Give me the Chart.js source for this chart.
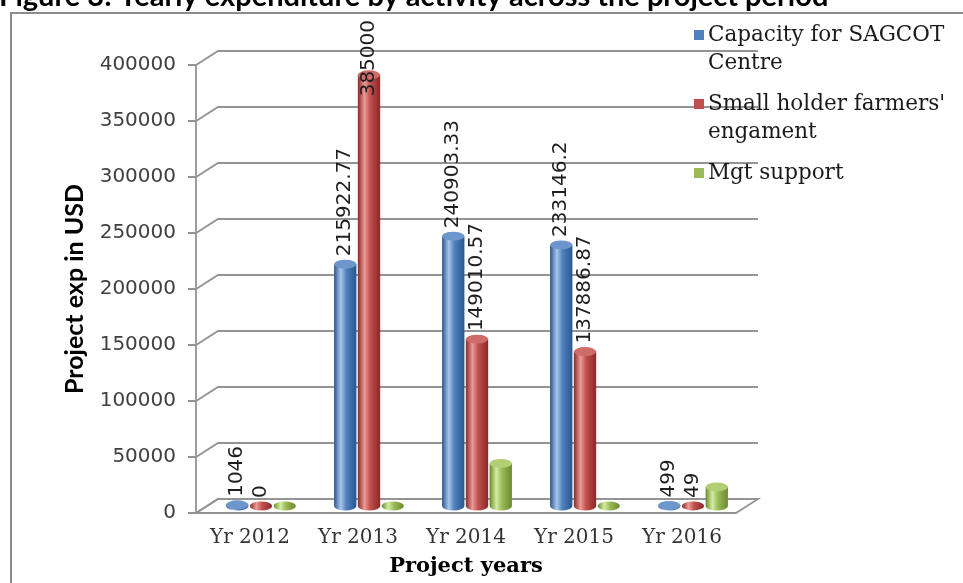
<!DOCTYPE html>
<html>
<head>
<meta charset="utf-8">
<title>Project expenditure by activity</title>
<script src="https://cdn.jsdelivr.net/npm/chart.js@4"></script>
<style>
  html, body { margin: 0; padding: 0; background: #fff; }
  canvas { display: block; }
</style>
</head>
<body>
<canvas id="chart" width="963" height="583"></canvas>
<script>
const years = ["Yr 2012", "Yr 2013", "Yr 2014", "Yr 2015", "Yr 2016"];
const capacityCentre = [1046, 215922.77, 240903.33, 233146.2, 499];
const smallholderEngagement = [0, 385000, 149010.57, 137886.87, 49];
const mgtSupport = [0, 0, 38000, 0, 17000];
const seriesNames = ["Capacity for SAGCOT Centre", "Small holder farmers' engament", "Mgt support"];
const seriesColors = ["#4f81bd", "#c0504d", "#9bbb59"];
const labelledSeries = [true, true, false];
const yMax = 400000;
const yStep = 50000;
const figureTitle = "Figure 3: Yearly expenditure by activity across the project period";

// back wall offset; bars stand half way into the box
const DEPTH_X = 22, DEPTH_Y = 14;
const LABEL_CEILING = 20;

// dark edge, highlight, body, top cap
const shades = [
  ["#2a5790", "#a9c5ea", "#4f81bd", "#6d97cc"],
  ["#8b2826", "#eb9a97", "#c0504d", "#cf6b68"],
  ["#6a8a2c", "#d3eca0", "#9bbb59", "#b2cf74"]
];

function cylinder(ctx, x, top, base, w, s) {
  const [dark, light, mid, cap] = shades[s];
  const l = x - w / 2, r = x + w / 2, ry = w * 0.2;
  const grad = ctx.createLinearGradient(l, 0, r, 0);
  grad.addColorStop(0, dark);
  grad.addColorStop(0.3, light);
  grad.addColorStop(0.55, mid);
  grad.addColorStop(1, dark);
  ctx.fillStyle = grad;
  if (base - top > 0.5) {
    ctx.beginPath();
    ctx.moveTo(l, top);
    ctx.lineTo(l, base);
    ctx.ellipse(x, base, w / 2, ry, 0, Math.PI, 0, true);
    ctx.lineTo(r, top);
    ctx.closePath();
    ctx.fill();
    ctx.fillStyle = cap;
  }
  ctx.beginPath();
  ctx.ellipse(x, top, w / 2, ry, 0, 0, Math.PI * 2);
  ctx.fill();
}

function drawWalls(chart) {
  const {ctx, chartArea: area, scales: {y}} = chart;
  const left = area.left, right = area.right, floor = y.getPixelForValue(0);
  ctx.save();
  ctx.strokeStyle = "#949494";
  ctx.lineWidth = 1.8;
  ctx.beginPath();
  ctx.moveTo(left, floor);
  ctx.lineTo(right, floor);
  ctx.lineTo(right + DEPTH_X, floor - DEPTH_Y);
  ctx.lineTo(left + DEPTH_X, floor - DEPTH_Y);
  ctx.closePath();
  ctx.fillStyle = "#fff";
  ctx.fill();
  ctx.stroke();
  y.ticks.forEach(t => {
    const py = y.getPixelForValue(t.value);
    ctx.beginPath();
    ctx.moveTo(left - 8, py);
    ctx.lineTo(left, py);
    ctx.lineTo(left + DEPTH_X, py - DEPTH_Y);
    ctx.lineTo(right + DEPTH_X, py - DEPTH_Y);
    ctx.stroke();
  });
  ctx.beginPath();
  ctx.moveTo(left, y.getPixelForValue(yMax));
  ctx.lineTo(left, floor);
  ctx.stroke();
  ctx.restore();
}

function drawBars(chart) {
  const ctx = chart.ctx;
  ctx.save();
  years.forEach((_, i) => {
    chart.data.datasets.forEach((ds, d) => {
      const bar = chart.getDatasetMeta(d).data[i];
      cylinder(ctx, bar.x + DEPTH_X / 2, bar.y - DEPTH_Y / 2, bar.base - DEPTH_Y / 2, bar.width, d);
    });
  });
  ctx.restore();
}

function drawValueLabels(chart) {
  const ctx = chart.ctx;
  ctx.save();
  ctx.font = '20px "DejaVu Sans"';
  ctx.fillStyle = "#1e1e1e";
  ctx.textAlign = "left";
  ctx.textBaseline = "middle";
  chart.data.datasets.forEach((ds, d) => {
    if (!labelledSeries[d]) return;
    chart.getDatasetMeta(d).data.forEach((bar, i) => {
      const text = String(ds.data[i]);
      const w = ctx.measureText(text).width;
      let start = bar.y - DEPTH_Y / 2 - 8;
      if (start - w < LABEL_CEILING) start = LABEL_CEILING + w;
      ctx.save();
      ctx.translate(bar.x + DEPTH_X / 2, start);
      ctx.rotate(-Math.PI / 2);
      ctx.fillText(text, 0, 0);
      ctx.restore();
    });
  });
  ctx.restore();
}

function wrapText(ctx, text, maxWidth) {
  let lines = [], line = "";
  text.split(" ").forEach(word => {
    const next = line ? line + " " + word : word;
    if (line && ctx.measureText(next).width > maxWidth) {
      lines.push(line);
      line = word;
    } else {
      line = next;
    }
  });
  lines.push(line);
  return lines;
}

function drawLegend(chart) {
  const ctx = chart.ctx;
  const textX = 708, lineHeight = 28;
  let y = 35;
  ctx.save();
  ctx.font = '21.5px "DejaVu Serif"';
  ctx.textBaseline = "middle";
  chart.data.datasets.forEach((ds, d) => {
    ctx.fillStyle = seriesColors[d];
    ctx.fillRect(textX - 14, y - 5, 10, 10);
    ctx.fillStyle = "#1a1a1a";
    const lines = wrapText(ctx, ds.label, chart.width - textX - 2);
    lines.forEach((ln, k) => ctx.fillText(ln, textX, y + k * lineHeight));
    y += lines.length * lineHeight + 13;
  });
  ctx.restore();
}

const depthPlugin = {
  id: "depth",
  beforeDraw(chart) {
    const ctx = chart.ctx;
    ctx.save();
    ctx.fillStyle = "#fff";
    ctx.fillRect(0, 0, chart.width, chart.height);
    ctx.font = "bold 29px Lato";
    ctx.fillStyle = "#000";
    ctx.textBaseline = "alphabetic";
    ctx.fillText(figureTitle, -1, 6);
    ctx.strokeStyle = "#8c8c8c";
    ctx.lineWidth = 2;
    ctx.beginPath();
    ctx.moveTo(11, chart.height);
    ctx.lineTo(11, 13);
    ctx.lineTo(chart.width, 13);
    ctx.stroke();
    ctx.restore();
  },
  beforeDatasetsDraw(chart) { drawWalls(chart); },
  afterDatasetsDraw(chart) { drawBars(chart); drawValueLabels(chart); },
  afterDraw(chart) { drawLegend(chart); }
};

function mkset(i, data) {
  return {
    label: seriesNames[i],
    data: data,
    backgroundColor: "rgba(0,0,0,0)",
    borderWidth: 0
  };
}

window.onload = function () {
  new Chart(document.getElementById("chart"), {
    type: "bar",
    data: {
      labels: years,
      datasets: [mkset(0, capacityCentre), mkset(1, smallholderEngagement), mkset(2, mgtSupport)]
    },
    plugins: [depthPlugin],
    options: {
      responsive: false,
      animation: false,
      layout: { padding: { left: 0, right: 227, top: 65, bottom: 0 } },
      datasets: { bar: { categoryPercentage: 0.66, barPercentage: 0.94 } },
      plugins: { legend: { display: false }, tooltip: { enabled: false } },
      scales: {
        x: {
          grid: { display: false },
          border: { display: false },
          ticks: { font: { family: "DejaVu Serif", size: 20 }, color: "#333", padding: 5, maxRotation: 0 },
          title: { display: true, text: "Project years", color: "#000",
                   font: { family: "DejaVu Serif", size: 21, weight: "bold" }, padding: { top: 0, bottom: 4 } },
          afterFit(scale) { scale.height = 70; }
        },
        y: {
          min: 0,
          max: yMax,
          grid: { display: false },
          border: { display: false },
          ticks: { stepSize: yStep, font: { family: "DejaVu Sans", size: 20 }, color: "#404040", padding: 12,
                   callback: v => String(v) },
          title: { display: true, text: "Project exp in USD", color: "#000",
                   font: { family: "Lato", size: 25, weight: "bold" }, padding: { top: 60, bottom: 0 } },
          afterFit(scale) { scale.width = 196; }
        }
      }
    }
  });
};
</script>
</body>
</html>
